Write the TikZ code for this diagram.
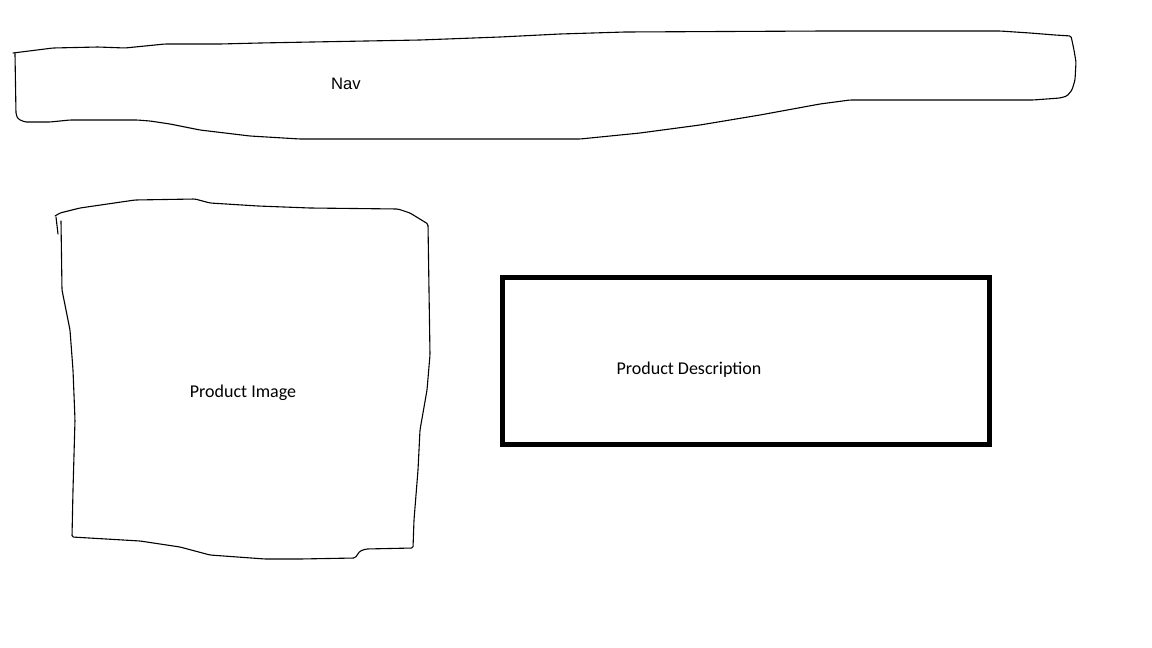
\documentclass[tikz,border=0pt]{standalone}
\usepackage{fontspec}
\setmainfont{Carlito}
\newfontfamily\navfont{Liberation Sans}
\begin{document}
\begin{tikzpicture}[x=1pt,y=-1pt,
  sketch/.style={draw=black,line width=1.1pt,line join=round,line cap=round,rounded corners=1.5pt},
  boxframe/.style={draw=black,line width=5pt,line join=miter},
  label/.style={inner sep=0pt,text=black,font=\fontsize{18}{21}\selectfont},
  navlabel/.style={inner sep=0pt,text=black,font=\navfont\fontsize{16.6}{19}\selectfont}]
\useasboundingbox (0,0) rectangle (1152,648);
\fill[white] (0,0) rectangle (1152,648);

% hand-drawn navigation bar
\draw[sketch] (13,53) -- (53,48) -- (98,47) -- (125,48) -- (145,46) -- (165,44)
  -- (220,44) -- (260,43) -- (312,42) -- (420,40) -- (500,37) -- (560,34)
  -- (625,32) -- (825,31) -- (1000,31) -- (1030,33) -- (1055,35) -- (1071,36)
  -- (1074,50) -- (1076,62) -- (1075,80) -- (1072,90) -- (1067,96) -- (1060,98)
  -- (1033,100) -- (850,100) -- (820,104) -- (760,115) -- (700,125) -- (640,133)
  -- (600,137) -- (580,139) -- (300,139) -- (250,136) -- (200,130) -- (170,124)
  -- (150,121) -- (137,120) -- (70,120) -- (50,122) -- (25,122) -- (18,119)
  -- (16,114) -- (15,54);
\node[navlabel] (nav) at (346,84) {Nav};

% hand-drawn product image frame
\draw[sketch] (56,217) -- (58,234);
\draw[sketch] (55,216) -- (60,213) -- (80,208) -- (135,200) -- (195,199)
  -- (210,203) -- (258,206) -- (310,208) -- (398,209) -- (410,213) -- (428,224)
  -- (429,290) -- (430,355) -- (427,390) -- (420,430) -- (418,470) -- (414,520)
  -- (413,548) -- (366,549) -- (360,551) -- (355,558) -- (300,559) -- (265,559)
  -- (210,555) -- (180,547) -- (140,541) -- (72,537) -- (73,490) -- (75,420)
  -- (73,370) -- (70,330) -- (62,290) -- (61,221);
\node[label] (image) at (243,392.5) {Product Image};

% product description panel
\draw[boxframe] (502.5,277.5) rectangle (989,444.5);
\node[label] (desc) at (689,370) {Product Description};
\end{tikzpicture}
\end{document}
